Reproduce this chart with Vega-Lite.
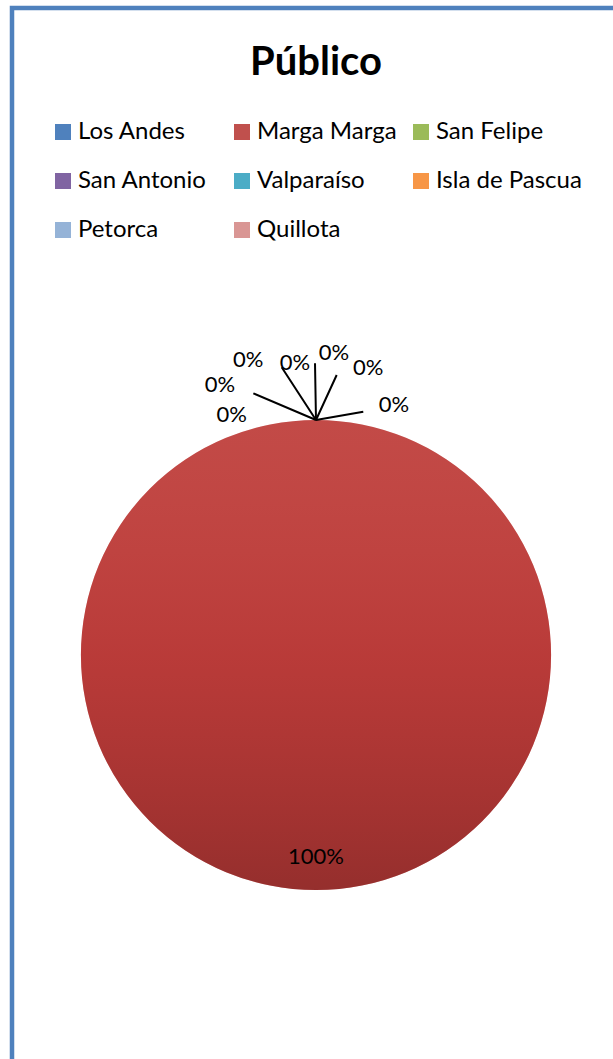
{
  "$schema": "https://vega.github.io/schema/vega-lite/v6.json",
  "autosize": {"type": "none"},
  "padding": {"left": 12, "top": 8, "right": -7, "bottom": -243},
  "width": 608,
  "height": 1294,
  "background": "white",
  "view": {"stroke": "#4F81BD", "strokeWidth": 4.5, "fill": "white"},
  "title": {"text": "Público", "font": "Lato", "fontSize": 40, "fontWeight": "bold", "color": "#000000", "anchor": "middle", "baseline": "alphabetic", "offset": 0, "dy": 107},
  "data": {"values": [
    {"Region": "Los Andes", "Orden": 1, "Pct": 0},
    {"Region": "Marga Marga", "Orden": 2, "Pct": 1},
    {"Region": "San Felipe", "Orden": 3, "Pct": 0},
    {"Region": "San Antonio", "Orden": 4, "Pct": 0},
    {"Region": "Valparaíso", "Orden": 5, "Pct": 0},
    {"Region": "Isla de Pascua", "Orden": 6, "Pct": 0},
    {"Region": "Petorca", "Orden": 7, "Pct": 0},
    {"Region": "Quillota", "Orden": 8, "Pct": 0}
  ]},
  "layer": [
    {
      "mark": {"type": "arc", "outerRadius": 235},
      "encoding": {
        "theta": {"field": "Pct", "type": "quantitative", "stack": true},
        "order": {"field": "Orden", "type": "quantitative"},
        "color": {
          "field": "Region", "type": "nominal",
          "scale": {
            "domain": ["Los Andes", "Marga Marga", "San Felipe", "San Antonio", "Valparaíso", "Isla de Pascua", "Petorca", "Quillota"],
            "range": ["#4F81BD", "#C0504D", "#9BBB59", "#8064A2", "#4BACC6", "#F79646", "#95B3D7", "#D99694"]
          },
          "legend": {
            "orient": "none", "legendX": 39, "legendY": 112, "columns": 3, "direction": "horizontal", "gridAlign": "all",
            "columnPadding": 6, "rowPadding": 25, "symbolType": "square", "symbolSize": 256,
            "symbolStrokeWidth": 0, "labelFont": "Lato", "labelFontSize": 24, "labelColor": "#000000",
            "labelOffset": 3, "labelLimit": 0, "title": null, "padding": 0
          }
        }
      }
    },
    {
      "mark": {
        "type": "arc", "outerRadius": 235,
        "fill": {"gradient": "linear", "x1": 0, "y1": 0, "x2": 0, "y2": 1, "stops": [
          {"offset": 0, "color": "rgba(210,40,35,0.14)"},
          {"offset": 0.5, "color": "rgba(170,10,10,0.30)"},
          {"offset": 1, "color": "rgba(90,0,0,0.42)"}
        ]}
      },
      "encoding": {
        "theta": {"field": "Pct", "type": "quantitative", "stack": true},
        "order": {"field": "Orden", "type": "quantitative"}
      }
    },
    {
      "transform": [{"filter": "datum.Pct > 0"}],
      "mark": {"type": "text", "radius": 202, "font": "Lato", "fontSize": 22, "color": "#000000"},
      "encoding": {
        "theta": {"field": "Pct", "type": "quantitative", "stack": true},
        "text": {"field": "Pct", "type": "quantitative", "format": ".0%"}
      }
    },
    {
      "transform": [{"filter": "datum.Pct == 0"}],
      "mark": {"type": "text", "font": "Lato", "fontSize": 22, "color": "#000000"},
      "encoding": {
        "theta": {"field": "Orden", "type": "quantitative", "stack": null,
          "scale": {"type": "linear", "zero": false, "nice": false, "domain": [1, 3, 4, 5, 6, 7, 8],
            "range": [0.3024, 0.1805, 0.0596, -0.0718, -0.2256, -0.3421, -0.3379]}},
        "radius": {"field": "Orden", "type": "quantitative",
          "scale": {"type": "linear", "zero": false, "nice": false, "domain": [1, 3, 4, 5, 6, 7, 8],
            "range": [261.9, 291.4, 302.2, 292.8, 302.7, 286.1, 254.4]}},
        "text": {"field": "Pct", "type": "quantitative", "format": ".0%"}
      }
    },
    {
      "transform": [{"filter": "datum.Pct == 0"}],
      "mark": {"type": "arc", "filled": false, "stroke": "#000000", "strokeWidth": 2,
        "x": {"expr": "width/2"}, "y": {"expr": "height/2-235"}},
      "encoding": {
        "theta": {"field": "Orden", "type": "quantitative", "stack": null,
          "scale": {"type": "linear", "zero": false, "nice": false, "domain": [1, 3, 4, 5, 6, 7, 8],
            "range": [1.3972, 0.4311, -0.0176, -0.3, -0.577, -1.1682, -1.3]}},
        "theta2": {"field": "Orden"},
        "radius": {"field": "Orden", "type": "quantitative",
          "scale": {"type": "linear", "zero": false, "nice": false, "domain": [1, 3, 4, 5, 6, 7, 8],
            "range": [48.0, 49.5, 56.7, 0, 62.9, 68.1, 0]}},
        "radius2": {"value": 0}
      }
    }
  ],
  "resolve": {"scale": {"theta": "independent", "radius": "independent"}},
  "config": {
    "view": {"stroke": "#4F81BD", "strokeWidth": 4.5},
    "style": {"cell": {"stroke": "#4F81BD", "strokeWidth": 4.5}},
    "text": {"font": "Lato"}
  }
}
